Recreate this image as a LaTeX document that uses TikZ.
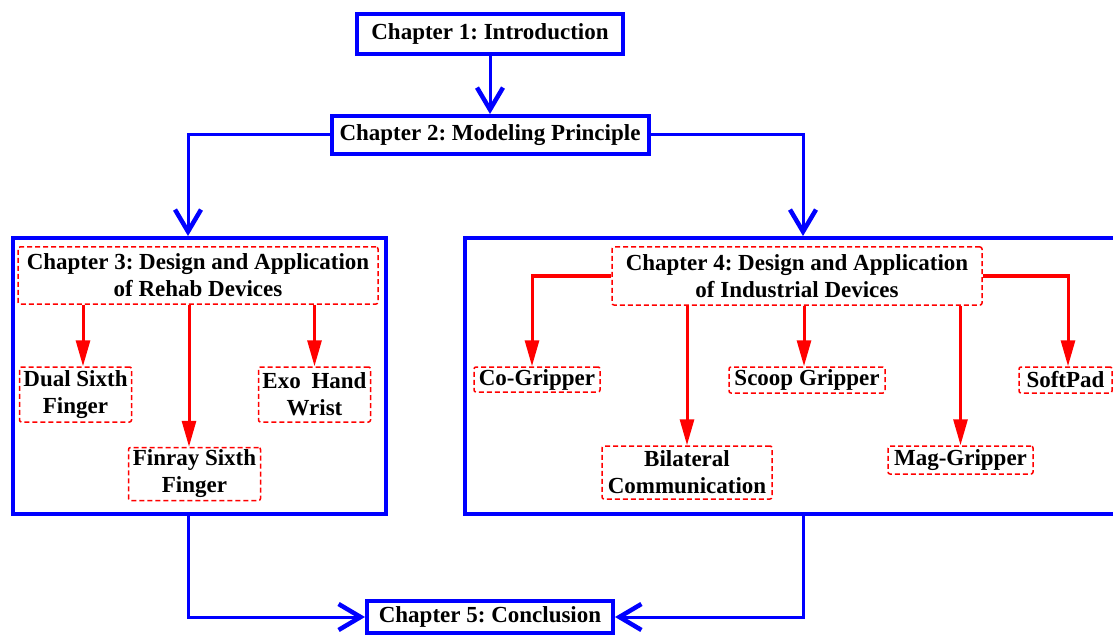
\documentclass[tikz,border=0pt]{standalone}
\usepackage{fontspec}
\setmainfont{Liberation Serif}
\frenchspacing
\usetikzlibrary{positioning, arrows.meta}
\tikzset{
  chapbox/.style = {
    shape = rectangle,
    draw = blue,
    line width = 4pt,
    align = center,
    inner sep = 0pt,
    font = \bfseries\fontsize{23}{27}\selectfont,
  }
}
\tikzset{
  groupbox/.style = {
    shape = rectangle,
    draw = blue,
    line width = 4pt,
    inner sep = 0pt,
  }
}
\tikzset{
  subbox/.style = {
    shape = rectangle,
    draw = red,
    line width = 1.5pt,
    dash pattern = on 5pt off 3pt,
    rounded corners = 2pt,
    align = center,
    inner sep = 0pt,
    font = \bfseries\fontsize{23}{27}\selectfont,
  }
}
\tikzset{
  arrow1/.style = {
    draw = blue, line width = 3pt, -{Straight Barb[length = 22pt, width = 26pt, line width = 4.5pt]},
  }
}
\tikzset{
  arrow2/.style = {
    draw = red, line width = 3pt, -{Triangle[length = 26pt, width = 14pt]},
  }
}

\begin{document}
\begin{tikzpicture}[x = 1pt, y = -1pt]
        \useasboundingbox (0, 0) rectangle (1113, 636);
        % main chapters
        \node[chapbox, minimum width = 266pt, minimum height = 40pt] (ch1) at (490, 34) {Chapter 1: Introduction};
        \node[chapbox, minimum width = 317pt, minimum height = 38pt] (ch2) at (490, 135) {Chapter 2: Modeling Principle};
        \node[groupbox, minimum width = 373pt, minimum height = 276pt] (rehab) at (199.5, 376) {};
        \node[groupbox, minimum width = 655pt, minimum height = 276pt] (indus) at (792.5, 376) {};
        \node[chapbox, minimum width = 246pt, minimum height = 32pt] (ch5) at (490, 617) {Chapter 5: Conclusion};
        % chapter 3
        \node[subbox, minimum width = 360pt, minimum height = 57pt] (ch3) at (198, 275.5) {Chapter 3: Design and Application\\of Rehab Devices};
        \node[subbox, minimum width = 112pt, minimum height = 55pt] (dual) at (75.5, 394.5) {Dual Sixth\\Finger};
        \node[subbox, minimum width = 132pt, minimum height = 53pt] (finray) at (194.5, 474) {Finray Sixth\\Finger};
        \node[subbox, minimum width = 112pt, minimum height = 55pt] (exo) at (314.5, 394.5) {Exo\hspace{5pt} Hand\\Wrist};
        % chapter 4
        \node[subbox, minimum width = 370pt, minimum height = 58pt] (ch4) at (797, 276) {Chapter 4: Design and Application\\of Industrial Devices};
        \node[subbox, minimum width = 126pt, minimum height = 25pt] (cogrip) at (537, 379.5) {Co-Gripper};
        \node[subbox, minimum width = 156pt, minimum height = 26pt] (scoop) at (807, 380) {Scoop Gripper};
        \node[subbox, minimum width = 93pt, minimum height = 26pt] (softpad) at (1065.5, 380) {SoftPad};
        \node[subbox, minimum width = 170pt, minimum height = 53pt] (bilat) at (687, 472.5) {Bilateral\\Communication};
        \node[subbox, minimum width = 145pt, minimum height = 28pt] (mag) at (960.5, 460) {Mag-Gripper};
        % blue flow
        \draw[arrow1] (ch1) -- (ch2);
        \draw[arrow1] (ch2.west) -| ([xshift = -11.5pt]rehab.north);
        \draw[arrow1] (ch2.east) -| ([xshift = 10.5pt]indus.north);
        \draw[arrow1] ([xshift = -11.5pt]rehab.south) |- (ch5.west);
        \draw[arrow1] ([xshift = 10.5pt]indus.south) |- (ch5.east);
        % red branches
        \draw[arrow2] ([xshift = 7.5pt]dual.north |- ch3.south) -- ([xshift = 7.5pt]dual.north);
        \draw[arrow2] ([xshift = -5.5pt]finray.north |- ch3.south) -- ([xshift = -5.5pt]finray.north);
        \draw[arrow2] (exo.north |- ch3.south) -- (exo.north);
        \draw[arrow2] (ch4.west) -| ([xshift = -5pt]cogrip.north);
        \draw[arrow2] (bilat.north |- ch4.south) -- (bilat.north);
        \draw[arrow2] ([xshift = -3pt]scoop.north |- ch4.south) -- ([xshift = -3pt]scoop.north);
        \draw[arrow2] (mag.north |- ch4.south) -- (mag.north);
        \draw[arrow2] (ch4.east) -| ([xshift = 2.5pt]softpad.north);
    \end{tikzpicture}
\end{document}
